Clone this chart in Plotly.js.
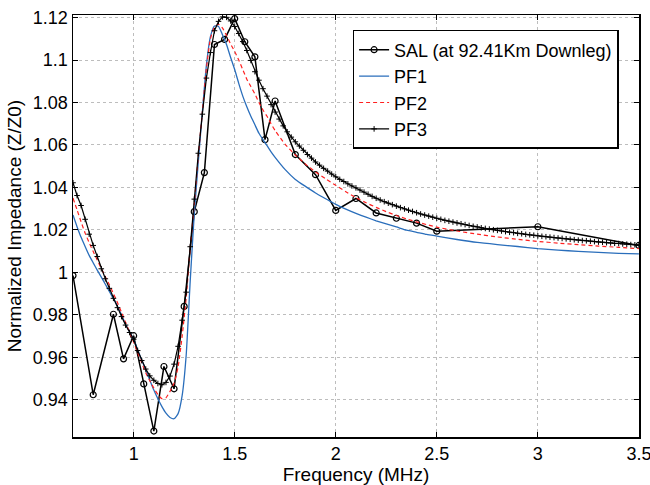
<!DOCTYPE html>
<html>
<head>
<meta charset="utf-8">
<script src="https://cdn.plot.ly/plotly-3.0.1.min.js"></script>
<style>html,body{margin:0;padding:0;background:#fff;}#chart{width:650px;height:485px;}</style>
</head>
<body>
<div id="chart"></div>
<script>
// SAL measurements
const freqSAL = [0.70,0.80,0.90,0.95,1.00,1.05,1.10,1.15,1.20,1.25,1.30,1.35,1.40,1.45,1.50,1.55,1.60,1.65,1.70,1.80,1.90,2.00,2.10,2.20,2.30,2.40,2.50,3.00,3.50];
const zSAL = [0.9985,0.9424,0.9803,0.9593,0.9702,0.9475,0.9253,0.9557,0.9452,0.9840,1.0286,1.0470,1.1073,1.1097,1.1195,1.1086,1.1015,1.0625,1.0807,1.0555,1.0460,1.0292,1.0348,1.0280,1.0255,1.0232,1.0194,1.0215,1.0127];

// PF1 / PF2 frequency grid
const freqPF = [0.70,0.72,0.74,0.76,0.78,0.80,0.82,0.84,0.86,0.88,
  0.90,0.92,0.94,0.96,0.98,1.00,1.02,1.04,1.06,1.08,
  1.10,1.12,1.14,1.16,1.18,1.20,1.22,1.24,1.26,1.28,
  1.30,1.32,1.34,1.36,1.38,1.40,1.42,1.44,1.46,1.48,
  1.50,1.52,1.54,1.56,1.58,1.60,1.62,1.64,1.66,1.68,
  1.70,1.75,1.80,1.85,1.90,1.95,2.00,2.05,2.10,2.15,
  2.20,2.25,2.30,2.35,2.40,2.45,2.50,2.60,2.70,2.80,
  2.90,3.00,3.10,3.20,3.30,3.40,3.50];
const zPF1 = [1.0270,1.0215,1.0165,1.0122,1.0080,1.0045,1.0011,0.9978,0.9944,0.9910,
  0.9876,0.9842,0.9800,0.9757,0.9720,0.9685,0.9636,0.9587,0.9540,0.9493,
  0.9446,0.9405,0.9368,0.9337,0.9317,0.9311,0.9335,0.9420,0.9610,0.9960,
  1.0275,1.0520,1.0755,1.0975,1.1110,1.1160,1.1158,1.1118,1.1072,1.1012,
  1.0955,1.0890,1.0830,1.0780,1.0735,1.0695,1.0655,1.0625,1.0597,1.0568,
  1.0542,1.0484,1.0438,1.0405,1.0374,1.0347,1.0320,1.0298,1.0278,1.0260,
  1.0243,1.0228,1.0214,1.0199,1.0189,1.0179,1.0171,1.0155,1.0141,1.0131,
  1.0122,1.0112,1.0105,1.0099,1.0094,1.0090,1.0087];
const zPF2 = [1.0350,1.0295,1.0238,1.0185,1.0140,1.0098,1.0058,1.0018,0.9980,0.9942,
  0.9900,0.9858,0.9812,0.9765,0.9718,0.9672,0.9622,0.9574,0.9527,0.9490,
  0.9455,0.9425,0.9405,0.9410,0.9440,0.9478,0.9555,0.9700,0.9880,1.0115,
  1.0320,1.0548,1.0755,1.0960,1.1100,1.1155,1.1168,1.1150,1.1115,1.1075,
  1.1040,1.1000,1.0955,1.0910,1.0875,1.0840,1.0800,1.0765,1.0735,1.0700,
  1.0668,1.0603,1.0553,1.0510,1.0473,1.0441,1.0410,1.0380,1.0352,1.0328,
  1.0306,1.0286,1.0268,1.0252,1.0238,1.0225,1.0213,1.0195,1.0180,1.0167,
  1.0156,1.0146,1.0138,1.0131,1.0124,1.0118,1.0112];

// PF3 frequency grid and values
const freqPF3 = [0.70,0.72,0.74,0.76,0.78,0.80,0.82,0.84,0.86,0.88,
  0.90,0.92,0.94,0.96,0.98,1.00,1.02,1.04,1.06,1.08,
  1.10,1.12,1.14,1.16,1.18,1.20,1.22,1.24,1.26,1.28,
  1.30,1.32,1.34,1.36,1.38,1.40,1.42,1.44,1.46,1.48,
  1.50,1.52,1.54,1.56,1.58,1.60,1.62,1.64,1.66,1.68,
  1.70,1.72,1.74,1.76,1.78,1.80,1.82,1.84,1.86,1.88,
  1.90,1.92,1.94,1.96,1.98,2.00,2.02,2.04,2.06,2.08,
  2.10,2.12,2.14,2.16,2.18,2.20,2.22,2.24,2.26,2.28,
  2.30,2.32,2.34,2.36,2.38,2.40,2.42,2.44,2.46,2.48,
  2.50,2.52,2.54,2.56,2.58,2.60,2.62,2.64,2.66,2.68,
  2.70,2.72,2.74,2.76,2.78,2.80,2.82,2.84,2.86,2.88,
  2.90,2.92,2.94,2.96,2.98,3.00,3.02,3.04,3.06,3.08,
  3.10,3.12,3.14,3.16,3.18,3.20,3.22,3.24,3.26,3.28,
  3.30,3.32,3.34,3.36,3.38,3.40,3.42,3.44,3.46,3.48,
  3.50];
const zPF3 = [1.0422,1.0362,1.0315,1.0250,1.0180,1.0127,1.0075,1.0017,0.9970,0.9925,
  0.9878,0.9834,0.9792,0.9752,0.9717,0.9685,0.9632,0.9585,0.9545,0.9513,
  0.9492,0.9477,0.9471,0.9482,0.9512,0.9568,0.9652,0.9775,0.9907,1.0121,
  1.0345,1.0561,1.0745,1.0915,1.1035,1.1138,1.1182,1.1203,1.1201,1.1184,
  1.1158,1.1125,1.1087,1.1045,1.0998,1.0945,1.0905,1.0865,1.0830,1.0790,
  1.0755,1.0722,1.0690,1.0662,1.0637,1.0615,1.0595,1.0575,1.0555,1.0538,
  1.0520,1.0505,1.0490,1.0477,1.0463,1.0450,1.0438,1.0428,1.0417,1.0407,
  1.0398,1.0388,1.0378,1.0368,1.0358,1.0349,1.0341,1.0333,1.0326,1.0319,
  1.0312,1.0305,1.0299,1.0293,1.0287,1.0281,1.0275,1.0270,1.0265,1.0260,
  1.0255,1.0250,1.0245,1.0241,1.0237,1.0233,1.0229,1.0225,1.0221,1.0217,
  1.0214,1.0210,1.0207,1.0204,1.0201,1.0198,1.0195,1.0192,1.0189,1.0187,
  1.0184,1.0182,1.0179,1.0177,1.0175,1.0172,1.0170,1.0168,1.0166,1.0164,
  1.0162,1.0160,1.0158,1.0156,1.0154,1.0152,1.0150,1.0149,1.0147,1.0145,
  1.0143,1.0142,1.0140,1.0139,1.0137,1.0136,1.0134,1.0133,1.0131,1.0130,
  1.0129];

// Axis ticks
const xTickVals = [1, 1.5, 2, 2.5, 3, 3.5];
const xTickText = ['1', '1.5', '2', '2.5', '3', '3.5'];
const yTickVals = [0.94, 0.96, 0.98, 1.00, 1.02, 1.04, 1.06, 1.08, 1.10, 1.12];
const yTickText = ['0.94', '0.96', '0.98', '1', '1.02', '1.04', '1.06', '1.08', '1.1', '1.12'];

const FONT = 'Liberation Sans, Arial, Helvetica, sans-serif';

const traces = [
  {x: freqSAL, y: zSAL, name: 'SAL (at 92.41Km Downleg)', type: 'scatter', mode: 'lines+markers',
   line: {color: '#000', width: 1.5},
   marker: {symbol: 'circle-open', size: 6, color: '#000', line: {width: 1.2, color: '#000'}}},
  {x: freqPF, y: zPF1, name: 'PF1', type: 'scatter', mode: 'lines',
   line: {color: '#2a6ebb', width: 1.3, shape: 'spline', smoothing: 0.5}},
  {x: freqPF, y: zPF2, name: 'PF2', type: 'scatter', mode: 'lines',
   line: {color: '#ff2020', width: 1.2, dash: '4px,3px', shape: 'spline', smoothing: 0.5}},
  {x: freqPF3, y: zPF3, name: 'PF3', type: 'scatter', mode: 'lines+markers',
   line: {color: '#000', width: 1.2},
   marker: {symbol: 'cross-thin', size: 4, color: '#000', line: {width: 1, color: '#000'}}}
];

const axisCommon = {
  showline: true, linecolor: '#000', linewidth: 1.5, mirror: 'ticks',
  ticks: 'inside', ticklen: 5, tickcolor: '#000', tickwidth: 1,
  showgrid: true, gridcolor: '#bdbdbd', griddash: 'dot', gridwidth: 1,
  zeroline: false, tickfont: {family: FONT, size: 18, color: '#000'},
  ticklabeloverflow: 'allow'
};

const layout = {
  width: 650, height: 485,
  margin: {l: 73, r: 11, t: 15, b: 48},
  paper_bgcolor: '#fff', plot_bgcolor: '#fff',
  font: {family: FONT, color: '#000'},
  showlegend: true,
  xaxis: Object.assign({}, axisCommon, {
    range: [0.7, 3.5005], tickmode: 'array', tickvals: xTickVals, ticktext: xTickText,
    title: {text: 'Frequency (MHz)', font: {family: FONT, size: 19, color: '#000'}, standoff: 4}
  }),
  yaxis: Object.assign({}, axisCommon, {
    range: [0.9225, 1.1212], tickmode: 'array', tickvals: yTickVals, ticktext: yTickText,
    title: {text: 'Normalized Impedance (Z/Z0)', font: {family: FONT, size: 19, color: '#000'}, standoff: 6}
  }),
  legend: {
    x: 0.494, y: 0.9645, xanchor: 'left', yanchor: 'top',
    bgcolor: '#fff', bordercolor: '#000', borderwidth: 1.5,
    font: {family: FONT, size: 18, color: '#000'},
    itemwidth: 30, tracegroupgap: 0, traceorder: 'normal'
  }
};

Plotly.newPlot('chart', traces, layout, {staticPlot: true, displayModeBar: false});
</script>
</body>
</html>
